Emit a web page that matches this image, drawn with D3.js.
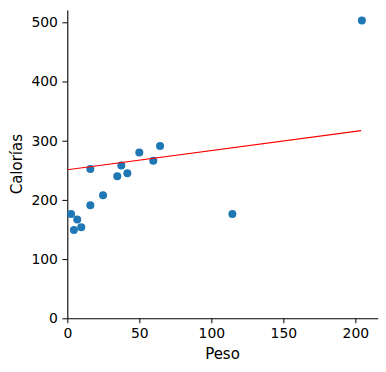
<!DOCTYPE html>
<meta charset="utf-8">
<title>Peso vs Calorías</title>
<script src="https://d3js.org/d3.v7.min.js"></script>
<style>
    body { margin: 0; background: #fff; }
    text { font-family: "DejaVu Sans", sans-serif; fill: #000; }
</style>
<body>
<script>
    // points
    var peso = [2.6, 6.9, 4.6, 9.7, 16, 16, 24.8, 34.7, 37.5, 41.7, 50, 59.7, 64.4, 114.6, 204.5];
    var calorias = [176, 167, 149, 154, 191, 252, 208, 240, 258, 245, 280, 266, 291, 176, 503];

    // fitted line ends
    var lineX = [0, 204];
    var lineY = [251, 317];

    var xTicks = [0, 50, 100, 150, 200];
    var yTicks = [0, 100, 200, 300, 400, 500];

    var W = 386, H = 372;
    var mLeft = 67.3, mRight = 377.7, mTop = 10, mBottom = 318.3;

    var x = d3.scaleLinear().domain([0, 215.5]).range([mLeft, mRight]);
    var y = d3.scaleLinear().domain([0, 520.8]).range([mBottom, mTop]);

    var svg = d3.select("body").append("svg")
        .attr("width", W).attr("height", H);

    var xAxis = svg.append("g")
        .attr("transform", "translate(0," + mBottom + ")")
        .call(d3.axisBottom(x).tickValues(xTicks).tickFormat(d3.format("d"))
            .tickSizeInner(4.9).tickSizeOuter(0).tickPadding(4.5));

    var yAxis = svg.append("g")
        .attr("transform", "translate(" + mLeft + ",0)")
        .call(d3.axisLeft(y).tickValues(yTicks).tickFormat(d3.format("d"))
            .tickSizeInner(4.9).tickSizeOuter(0).tickPadding(4.5));

    [xAxis, yAxis].forEach(function (g) {
        g.selectAll("text").style("font-size", "13.9px").attr("fill", "#000");
        g.selectAll("line").attr("stroke", "#000").attr("stroke-width", 1);
        g.select(".domain").attr("stroke", "#000").attr("stroke-width", 1.1);
    });

    svg.append("g").selectAll("circle")
        .data(peso)
        .enter().append("circle")
        .attr("cx", function (d) { return x(d); })
        .attr("cy", function (d, i) { return y(calorias[i]); })
        .attr("r", 4)
        .attr("fill", "#1f77b4");

    svg.append("path")
        .datum(lineX.map(function (d, i) { return [d, lineY[i]]; }))
        .attr("fill", "none")
        .attr("stroke", "red")
        .attr("stroke-width", 1.1)
        .attr("d", d3.line().x(function (d) { return x(d[0]); }).y(function (d) { return y(d[1]); }));

    svg.append("text")
        .attr("x", (mLeft + mRight) / 2)
        .attr("y", 359)
        .attr("text-anchor", "middle")
        .style("font-size", "15px")
        .text("Peso");

    svg.append("text")
        .attr("transform", "translate(22," + (mTop + mBottom) / 2 + ") rotate(-90)")
        .attr("text-anchor", "middle")
        .style("font-size", "15px")
        .text("Calorías");
</script>
</body>
